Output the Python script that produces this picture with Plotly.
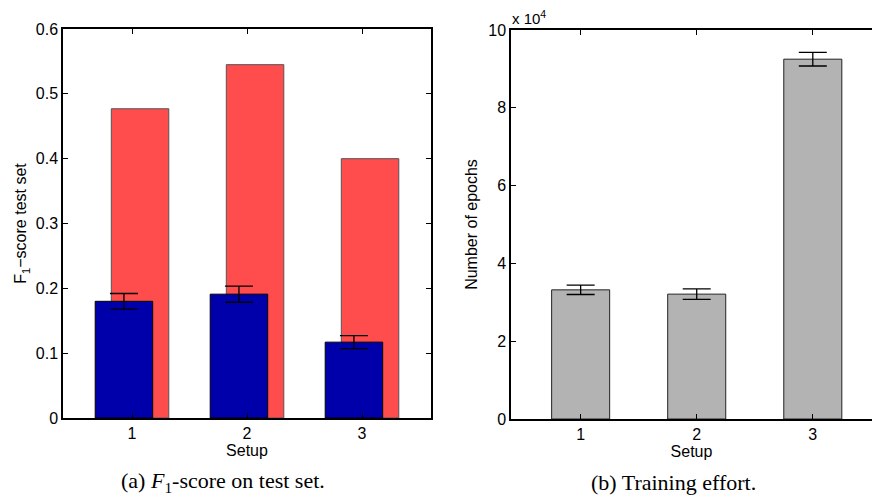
import plotly.graph_objects as go

# ---- data ----
setups = [1, 2, 3]
f1_red = [0.477, 0.545, 0.400]
f1_blue = [0.180, 0.191, 0.117]
f1_blue_err = [0.012, 0.0125, 0.010]
epochs = [33200, 32100, 92500]
epochs_err = [1200, 1350, 1750]
epoch_tickvals = [0, 20000, 40000, 60000, 80000, 100000]
epoch_ticktext = ["0", "2", "4", "6", "8", "10"]

FONT = "Liberation Sans"
SERIF = "Liberation Serif"
BLACK = "#000000"

fig = go.Figure()

fig.add_trace(go.Bar(
    x=setups, y=f1_red, width=0.5, offset=-0.18,
    marker=dict(color="#ff4c4c", line=dict(color="#555555", width=1)),
    xaxis="x", yaxis="y", showlegend=False))
fig.add_trace(go.Bar(
    x=setups, y=f1_blue, width=0.5, offset=-0.32,
    marker=dict(color="#0000aa", line=dict(color=BLACK, width=1)),
    error_y=dict(type="data", array=f1_blue_err, color=BLACK, thickness=1.3, width=14),
    xaxis="x", yaxis="y", showlegend=False))
fig.add_trace(go.Bar(
    x=setups, y=epochs, width=0.5,
    marker=dict(color="#b3b3b3", line=dict(color="#222222", width=1)),
    error_y=dict(type="data", array=epochs_err, color=BLACK, thickness=1.3, width=14),
    xaxis="x2", yaxis="y2", showlegend=False))

axis_common = dict(showgrid=False, zeroline=False, showline=True, linecolor=BLACK,
                   linewidth=1.5, ticks="inside", ticklen=5, tickcolor=BLACK,
                   automargin=False,
                   tickfont=dict(family=FONT, size=16, color=BLACK))
title_font = dict(family=FONT, size=16, color=BLACK)

fig.update_layout(
    width=872, height=497,
    margin=dict(l=0, r=0, t=0, b=0),
    paper_bgcolor="white", plot_bgcolor="white",
    barmode="overlay",
    font=dict(family=FONT, color=BLACK),
    xaxis=dict(domain=[63/872, 431/872], range=[0.4, 3.6], tickvals=setups,
               mirror="ticks", anchor="y",
               title=dict(text="Setup", font=title_font, standoff=0),
               **axis_common),
    yaxis=dict(domain=[79/497, 468/497], range=[0, 0.6], dtick=0.1,
               mirror="ticks", anchor="x",
               title=dict(text="F<sub>1</sub>−score test set", font=title_font, standoff=5),
               **axis_common),
    xaxis2=dict(domain=[511/872, 1.0], range=[0.4, 3.51], tickvals=setups,
                mirror="ticks", anchor="y2",
                title=dict(text="Setup", font=title_font, standoff=0),
                **axis_common),
    yaxis2=dict(domain=[78/497, 467/497], range=[0, 100000], tickvals=epoch_tickvals,
                ticktext=epoch_ticktext, mirror=False, anchor="x2",
                title=dict(text="Number of epochs", font=title_font, standoff=7),
                **axis_common),
    annotations=[
        dict(text="x 10<sup>4</sup>", x=510/872, y=(497-17)/497, xref="paper", yref="paper",
             xanchor="left", yanchor="middle", showarrow=False,
             font=dict(family=FONT, size=15, color=BLACK)),
        dict(text="(a) <i>F</i><sub>1</sub>-score on test set.", x=223/872, y=(497-482)/497,
             xref="paper", yref="paper", xanchor="center", yanchor="middle", showarrow=False,
             font=dict(family=SERIF, size=22, color=BLACK)),
        dict(text="(b) Training effort.", x=673/872, y=(497-482)/497,
             xref="paper", yref="paper", xanchor="center", yanchor="middle", showarrow=False,
             font=dict(family=SERIF, size=22, color=BLACK)),
    ],
)

fig.write_html("out.html", config={"displayModeBar": False},
               post_script="document.body.style.margin='0';document.body.style.overflow='hidden';")
